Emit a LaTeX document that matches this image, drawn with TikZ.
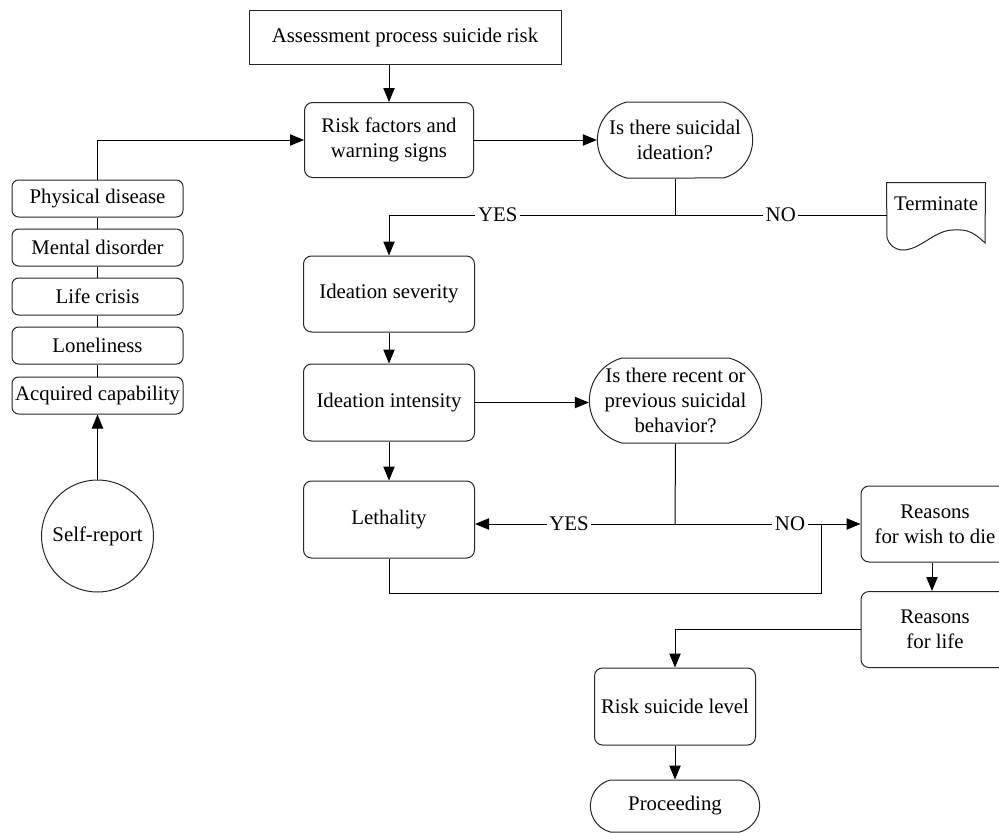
\documentclass[tikz,border=0pt]{standalone}
\usepackage{fontspec}
\setmainfont{Liberation Serif}
\usetikzlibrary{arrows.meta,shapes.misc,calc}
\tikzset{
  base/.style={font=\fontsize{15.6}{18.8}\selectfont, align=center, inner sep=1pt, line width=0.75pt},
  rbox/.style={base, draw=black!85, rectangle, rounded corners=6pt},
  sbox/.style={base, draw=black!85, rectangle},
  fbox/.style={base, draw=black!85, rectangle, rounded corners=5pt, minimum width=171*0.75pt, minimum height=37*0.75pt},
  decision/.style={base, draw=black!85, rounded rectangle, rounded rectangle arc length=150},
  arr/.style={line width=0.75pt, -{Triangle[length=10.5pt,width=8.5pt]}},
  ln/.style={line width=0.75pt},
  lbl/.style={font=\fontsize{15.6}{18.8}\selectfont, fill=white, inner sep=2pt}
}
\begin{document}
\begin{tikzpicture}[x=0.75pt,y=-0.75pt]
\useasboundingbox (0,0) rectangle (999,832);
% main column
\node[sbox, minimum width=312*0.75pt, minimum height=54*0.75pt] (top) at (405,37) {Assessment process suicide risk};
\node[rbox, minimum width=169*0.75pt, minimum height=75*0.75pt] (risk) at (389,140) {Risk factors and\\warning signs};
\node[decision, minimum width=158*0.75pt, minimum height=76*0.75pt] (dec1) at (675,140) {Is there suicidal\\ideation?};
\node[base, draw=none, rectangle, minimum width=98*0.75pt, minimum height=60*0.75pt] (term) at (936,213) {};
\node[base] (termtext) at (936,204) {Terminate};
\draw[ln, draw=black!85] (term.north west) -- (term.north east) -- (985,243)
  .. controls (970,228) and (962,230) .. (953,230)
  .. controls (935,230) and (920,250) .. (903,250)
  .. controls (895,250) and (889,245) .. (887,238) -- cycle;
\node[rbox, minimum width=171*0.75pt, minimum height=76*0.75pt] (sev) at (389,294) {Ideation severity};
\node[rbox, minimum width=171*0.75pt, minimum height=77*0.75pt] (inten) at (389,402.5) {Ideation intensity};
\node[rbox, minimum width=171*0.75pt, minimum height=77*0.75pt] (leth) at (389,519.5) {Lethality};
\node[decision, minimum width=175*0.75pt, minimum height=85*0.75pt] (dec2) at (675.5,400.5) {Is there recent or\\previous suicidal\\behavior?};
\node[rbox, minimum width=148*0.75pt, minimum height=76*0.75pt] (wish) at (935,524) {Reasons\\for wish to die};
\node[rbox, minimum width=148*0.75pt, minimum height=76*0.75pt] (life) at (935,629.5) {Reasons\\for life};
\node[rbox, minimum width=161*0.75pt, minimum height=77*0.75pt] (level) at (675,706.5) {Risk suicide level};
\node[decision, minimum width=172*0.75pt, minimum height=52*0.75pt] (proc) at (675,806) {Proceeding};
% left column
\node[fbox] (phys) at (97.5,198.5) {Physical disease};
\node[fbox] (ment) at (97.5,247.5) {Mental disorder};
\node[fbox] (crisis) at (97.5,296.5) {Life crisis};
\node[fbox] (lone) at (97.5,345.5) {Loneliness};
\node[fbox] (acq) at (97.5,395.5) {Acquired capability};
\node[base, draw=black!85, circle, minimum size=112*0.75pt] (self) at (97.5,536) {Self-report};
% junctions
\coordinate (j1) at (675,215);
\coordinate (j2) at (675,524);
\coordinate (j3) at (821,593);
% connectors
\draw[arr] (top.south -| risk.north) -- (risk.north);
\draw[arr] (phys.north) |- (risk.west);
\draw[ln] (phys.south) -- (ment.north);
\draw[ln] (ment.south) -- (crisis.north);
\draw[ln] (crisis.south) -- (lone.north);
\draw[ln] (lone.south) -- (acq.north);
\draw[arr] (self.north) -- (acq.south);
\draw[arr] (risk.east) -- (dec1.west);
\draw[ln] (dec1.south) -- (j1);
\draw[arr] (j1) -- node[lbl, pos=0.62]{YES} (sev.north |- j1) -- (sev.north);
\draw[ln] (j1) -- node[lbl, pos=0.5]{NO} (j1 -| term.west);
\draw[arr] (sev.south) -- (inten.north);
\draw[arr] (inten.south) -- (leth.north);
\draw[arr] (inten.east) -- (inten.east -| dec2.west);
\draw[ln] (dec2.south) -- (j2);
\draw[arr] (j2) -- node[lbl, pos=0.53]{YES} (j2 -| leth.east);
\draw[arr] (j2) -- node[lbl, pos=0.62]{NO} (j2 -| wish.west);
\draw[ln] (leth.south) |- (j3) -- (j3 |- j2);
\draw[arr] (wish.south -| 932,0) -- (life.north -| 932,0);
\draw[arr] (life.west) -| (level.north);
\draw[arr] (level.south) -- (proc.north);
\end{tikzpicture}
\end{document}
